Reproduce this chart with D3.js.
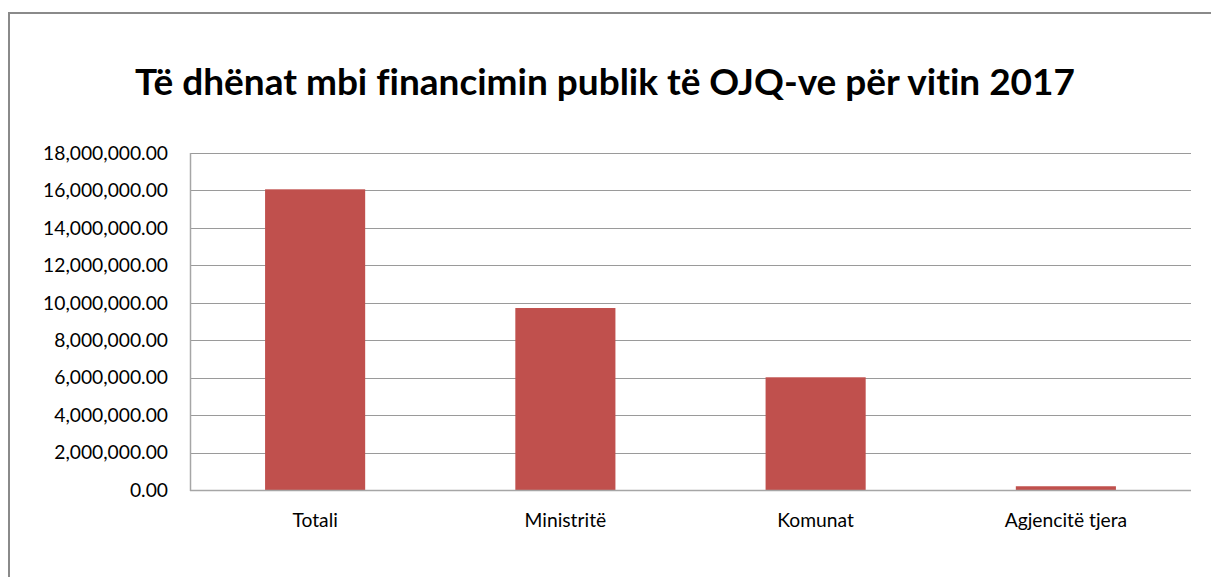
<!DOCTYPE html>
<html>
<head>
<meta charset="utf-8">
<script src="https://cdn.jsdelivr.net/npm/d3@7"></script>
<style>
  html, body { margin: 0; padding: 0; background: #fff; }
  svg { display: block; }
  text { font-family: Lato, "Open Sans", sans-serif; fill: #000; font-variant-ligatures: none; font-feature-settings: "liga" 0, "clig" 0; }
</style>
</head>
<body>
<svg id="chart" width="1211" height="577"></svg>
<script>
const title = "Të dhënat mbi financimin publik të OJQ-ve për vitin 2017";
const categories = ["Totali", "Ministritë", "Komunat", "Agjencitë tjera"];
const values = [16060000, 9720000, 6020000, 200000];
const yTicks = [0, 2000000, 4000000, 6000000, 8000000, 10000000, 12000000, 14000000, 16000000, 18000000];

const W = 1211, H = 577;
const svg = d3.select("#chart");

// outer chart border
svg.append("rect")
  .attr("x", 9).attr("y", 13)
  .attr("width", W + 10).attr("height", H + 10)
  .attr("fill", "#fff").attr("stroke", "#8a8a8a").attr("stroke-width", 2);

const plot = { left: 190, right: 1191, top: 153, bottom: 490 };

const x = d3.scaleBand().domain(categories)
  .range([plot.left, plot.right]).paddingInner(0.6).paddingOuter(0.3);
const y = d3.scaleLinear().domain([0, 18000000]).range([plot.bottom, plot.top]);

// gridlines
svg.append("g").selectAll("line").data(yTicks.filter(d => d > 0)).join("line")
  .attr("x1", plot.left).attr("x2", plot.right)
  .attr("y1", d => Math.round(y(d)) + 0.5).attr("y2", d => Math.round(y(d)) + 0.5)
  .attr("stroke", "#9a9a9a").attr("stroke-width", 1);

// bars
svg.append("g").selectAll("rect").data(values).join("rect")
  .attr("x", (d, i) => x(categories[i]))
  .attr("width", x.bandwidth())
  .attr("y", d => y(d))
  .attr("height", d => plot.bottom - y(d))
  .attr("fill", "#C0504D");

// axes lines
svg.append("line").attr("x1", plot.left + 0.5).attr("x2", plot.left + 0.5)
  .attr("y1", plot.top).attr("y2", plot.bottom + 1)
  .attr("stroke", "#a6a6a6").attr("stroke-width", 1.5);
svg.append("line").attr("x1", plot.left).attr("x2", plot.right)
  .attr("y1", plot.bottom + 0.5).attr("y2", plot.bottom + 0.5)
  .attr("stroke", "#a6a6a6").attr("stroke-width", 1.5);

// y tick labels
const fmt = d3.format(",.2f");
const yLab = svg.append("g").selectAll("text").data(yTicks).join("text")
  .attr("x", 168).attr("y", d => y(d))
  .attr("dy", "0.35em")
  .attr("text-anchor", "end")
  .style("font-size", "17px")
  .text(d => fmt(d));

// x labels
const xLab = svg.append("g").selectAll("text").data(categories).join("text")
  .attr("x", d => x(d) + x.bandwidth() / 2)
  .attr("y", 527)
  .attr("text-anchor", "middle")
  .style("font-size", "17px")
  .text(d => d);

// title
const t = svg.append("text")
  .attr("x", 605).attr("y", 95)
  .attr("text-anchor", "middle")
  .style("font-size", "34px").style("font-weight", "bold")
  .text(title);
// fit title to reference width
const tw = t.node().getComputedTextLength();
t.style("font-size", (34 * 940 / tw).toFixed(2) + "px");
// fit tick label width
const lw = yLab.filter(d => d === 18000000).node().getComputedTextLength();
const fs = (17 * 125 / lw).toFixed(2) + "px";
yLab.style("font-size", fs);
xLab.style("font-size", fs);
</script>
</body>
</html>
